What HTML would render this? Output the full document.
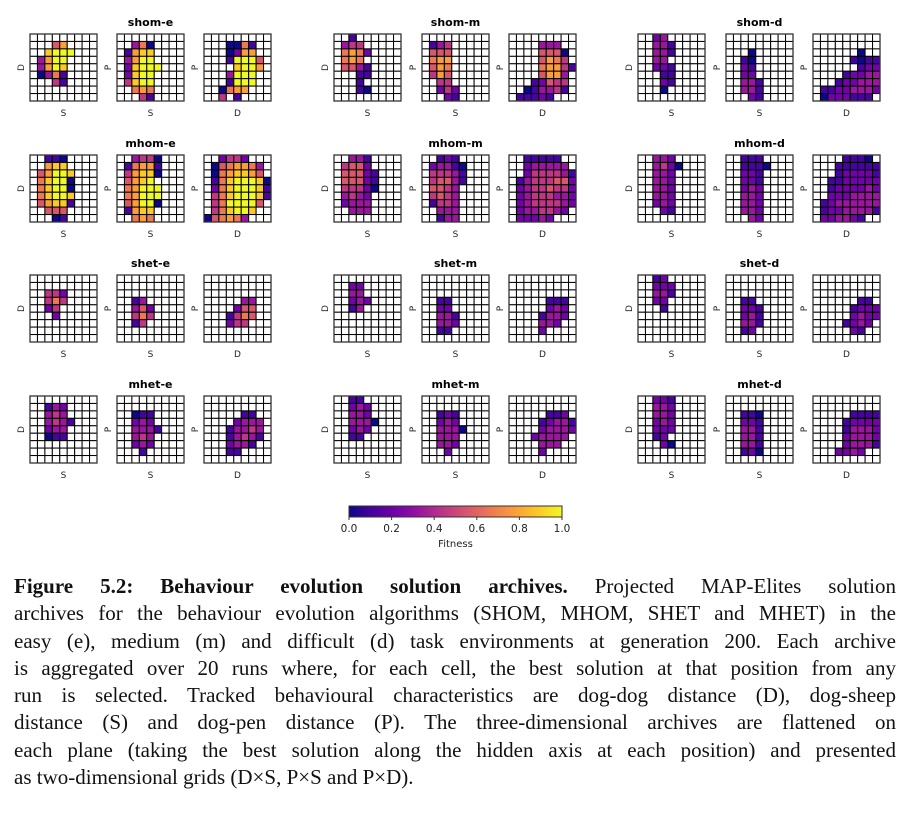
<!DOCTYPE html>
<html><head><meta charset="utf-8">
<style>
html,body{margin:0;padding:0;background:#fff;}
body{width:912px;height:813px;position:relative;overflow:hidden;}
#fig{position:absolute;left:0;top:0;}
#caption{position:absolute;left:14px;top:573px;width:882px;font-family:"Liberation Serif",serif;font-size:21px;color:#111;}
#caption .ln{height:27.3px;line-height:27.3px;white-space:nowrap;text-align:justify;text-align-last:justify;}
#caption .ln.last{text-align-last:left;}
</style></head>
<body>
<svg id="fig" width="912" height="570" xmlns="http://www.w3.org/2000/svg"></svg>
<div id="caption">
<div class="ln"><b>Figure 5.2: Behaviour evolution solution archives.</b> Projected MAP-Elites solution</div>
<div class="ln">archives for the behaviour evolution algorithms (SHOM, MHOM, SHET and MHET) in the</div>
<div class="ln">easy (e), medium (m) and difficult (d) task environments at generation 200. Each archive</div>
<div class="ln">is aggregated over 20 runs where, for each cell, the best solution at that position from any</div>
<div class="ln">run is selected. Tracked behavioural characteristics are dog-dog distance (D), dog-sheep</div>
<div class="ln">distance (S) and dog-pen distance (P). The three-dimensional archives are flattened on</div>
<div class="ln">each plane (taking the best solution along the hidden axis at each position) and presented</div>
<div class="ln last">as two-dimensional grids (D×S, P×S and P×D).</div>
</div>
<script>
// Panel titles (algorithm-environment)
const titles = ["shom-e","shom-m","shom-d","mhom-e","mhom-m","mhom-d","shet-e","shet-m","shet-d","mhet-e","mhet-m","mhet-d"];
const xLabels = ["S","S","D"];
const yLabels = ["D","P","P"];
const cbTicks = [0.0,0.2,0.4,0.6,0.8,1.0];
// Fitness grids: 9 rows top->bottom; digit d = fitness d/9, '.' = empty cell
const gridShomE = [
 [".........","...57....","..8999...",".3799....",".3798....",".0361....","...41....",".........","........."],
 [".........","..360....",".1788....",".3799....",".28999...",".2899....",".4899....","..676....","...41...."],
 [".........","...0061..","...0277..","...19995.","....8997.","...3999..","...1999..","..0677...","..4.1...."]];
const gridShomM = [
 ["..1......",".344.....",".6762....",".676.....",".5531....","...11....","...1.....","...10....","........."],
 [".........",".134.....",".555.....",".677.....",".576.....",".475.....","..44.....","..242....","...21...."],
 [".........","....333..","....5550.","....5764.","....67741","....5773.","...12544.","..013341.",".11121..."]];
const gridShomD = [
 ["..23.....","..331....","..331....","..33.....","..221....","...11....","...21....","...0.....","........."],
 [".........",".........","...0.....","..10.....","..21.....","..22.....","..331....","..331....","...21...."],
 [".........",".........","......0..",".....1011","......122","....12233","...122333",".11223332",".0222111."]];
const gridMhomE = [
 ["..110....","..788....",".57998...",".68990...",".68990...",".68998...",".57881...","..555....","...01...."],
 ["..3440...",".16771...",".47880...",".5789....",".67999...",".67999...",".57990...",".1788....","..676...."],
 ["..2442...",".0567763.",".0678875.",".16899980",".26899981",".46899981",".4699995.",".468998..","056763..."]];
const gridMhomM = [
 ["..331....",".4552....",".55521...",".55521...",".44420...",".3432....",".2333....","..333....","........."],
 ["..121....",".23310...",".44431...",".45531...",".5543....",".4543....",".1443....","..333....","..133...."],
 ["..11111..","..233333.","..2444431",".13444552",".23445442",".23444332",".23444432",".2334432.",".22232..."]];
const gridMhomD = [
 ["..332....","..3420...","..332....","..332....","..332....","..332....","..232....","...21....","........."],
 ["..111....","..1110...","..221....","..221....","..232....","..332....","..332....","..332....","...32...."],
 ["....1110.","...111111","...122221","..1122222","..1222232","..2223333",".12333333",".12233331",".223321..."]];
const gridShetE = [
 [".........",".........","..442....","..464....","..24.....","...2.....",".........",".........","........."],
 [".........",".........",".........","..13.....","..352....","..464....","..14.....",".........","........."],
 [".........",".........",".........",".....33..","....255..","...1465..","...244...",".........","........."]];
const gridShetM = [
 [".........","..22.....","..33.....","..232....","..13.....",".........",".........",".........","........."],
 [".........",".........",".........","..11.....","..22.....","..331....","..332....","..11.....","........."],
 [".........",".........",".........",".....111.",".....232.","....1332.","....332..","....2....","........."]];
const gridShetD = [
 ["..12.....","..222....","..331....","..22.....","...1.....",".........",".........",".........","........."],
 [".........",".........",".........","..11.....","..221....","..231....","..331....","..12.....","........."],
 [".........",".........",".........","......11.",".....1222",".....2322","....1232.",".....21..","........."]];
const gridMhetE = [
 [".........","..132....","..343....","..3431...","..233....","..011....",".........",".........","........."],
 [".........",".........","..011....","..232....","..3331...","..343....","..232....","...1.....","........."],
 [".........",".........",".....11..","....2333.","...13343.","...13431.","...2331..","...11....","........."]];
const gridMhetM = [
 ["..11.....","..232....","..332....","..3330...","..232....","..11.....",".........",".........","........."],
 [".........",".........","..121....","..232....","..3330...","..333....","..332....","...2.....","........."],
 [".........",".........",".....112.","....12331","....23332","...23333.","....333..","....2....","........."]];
const gridMhetD = [
 ["..221....","..332....","..332....","..232....","..222....","..12.....","...20....",".........","........."],
 [".........",".........","..110....","..221....","..331....","..331....","..331....","..120....","........."],
 [".........",".........",".....1111","....12222","....13332","....23332","....23331","...2232..","........."]];
const allGrids = [gridShomE,gridShomM,gridShomD,gridMhomE,gridMhomM,gridMhomD,gridShetE,gridShetM,gridShetD,gridMhetE,gridMhetM,gridMhetD];

const NS="http://www.w3.org/2000/svg";
const svg=document.getElementById('fig');
const plasma=[[13,8,135],[65,4,157],[106,0,168],[143,13,164],[177,42,144],[204,71,120],[225,100,98],[242,132,75],[252,166,54],[252,206,37],[240,249,33]];
function cmap(v){v=Math.max(0,Math.min(1,v));const t=v*10,i=Math.min(9,Math.floor(t)),f=t-i;const a=plasma[i],b=plasma[i+1];
 return 'rgb('+a.map((c,k)=>Math.round(c+(b[k]-c)*f)).join(',')+')';}
function el(tag,attrs,parent){const e=document.createElementNS(NS,tag);for(const k in attrs)e.setAttribute(k,attrs[k]);(parent||svg).appendChild(e);return e;}
const groupX=[[30,117,204],[334,422,509],[638,726,813]];
const rowY=[34,155,275,396];
const P=67,N=9,cs=P/N;
const fontSans='"DejaVu Sans","Liberation Sans",sans-serif';
allGrids.forEach((grids,gi)=>{
  const col=gi%3,row=Math.floor(gi/3);
  const y0=rowY[row];
  const t=el('text',{x:groupX[col][1]+P/2,y:y0-8,'text-anchor':'middle','font-family':fontSans,'font-size':'11','font-weight':'bold',fill:'#000'});
  
  
  t.textContent=titles[gi];
  grids.forEach((g,pi)=>{
    const x0=groupX[col][pi];
    const grp=el('g',{});
    
    
    g.forEach((rowStr,r)=>{
      for(let c=0;c<N;c++){
        const ch=rowStr[c];
        const fill=ch==='.'?'#fff':cmap(parseInt(ch)/9);
        const rc=el('rect',{x:x0+c*cs,y:y0+r*cs,width:cs,height:cs,fill:fill,stroke:'#000','stroke-width':'1'},grp);
        
        
      }
    });
    el('rect',{x:x0,y:y0,width:P,height:P,fill:'none',stroke:'#333','stroke-width':'1.3'},grp);
    const xl=el('text',{x:x0+P/2,y:y0+P+15,'text-anchor':'middle','font-family':fontSans,'font-size':'9',fill:'#222'});
    
    
    xl.textContent=xLabels[pi];
    const yx=x0-6,yy=y0+P/2;
    const yl=el('text',{x:yx,y:yy,'text-anchor':'middle','font-family':fontSans,'font-size':'9',fill:'#222',transform:'rotate(-90 '+yx+' '+yy+')'});
    
    
    yl.textContent=yLabels[pi];
  });
});
// colorbar
const cbX=349,cbY=506,cbW=213,cbH=11;
const defs=el('defs',{});
const lg=el('linearGradient',{id:'pl',x1:'0',x2:'1',y1:'0',y2:'0'},defs);
plasma.forEach((c,i)=>el('stop',{offset:(i/10),'stop-color':'rgb('+c.join(',')+')'},lg));
const cb=el('rect',{x:cbX,y:cbY,width:cbW,height:cbH,fill:'url(#pl)',stroke:'#333','stroke-width':'1'});


cbTicks.forEach(v=>{
  const x=cbX+v*cbW;
  el('line',{x1:x,x2:x,y1:cbY+cbH,y2:cbY+cbH+3,stroke:'#333','stroke-width':'1'});
  const tt=el('text',{x:x,y:cbY+cbH+15,'text-anchor':'middle','font-family':fontSans,'font-size':'10.5',fill:'#222'});
  
  
  tt.textContent=v.toFixed(1);
});
const ft=el('text',{x:cbX+cbW/2,y:cbY+cbH+30,'text-anchor':'middle','font-family':fontSans,'font-size':'10',fill:'#222'});


ft.textContent='Fitness';
</script>
</body></html>
